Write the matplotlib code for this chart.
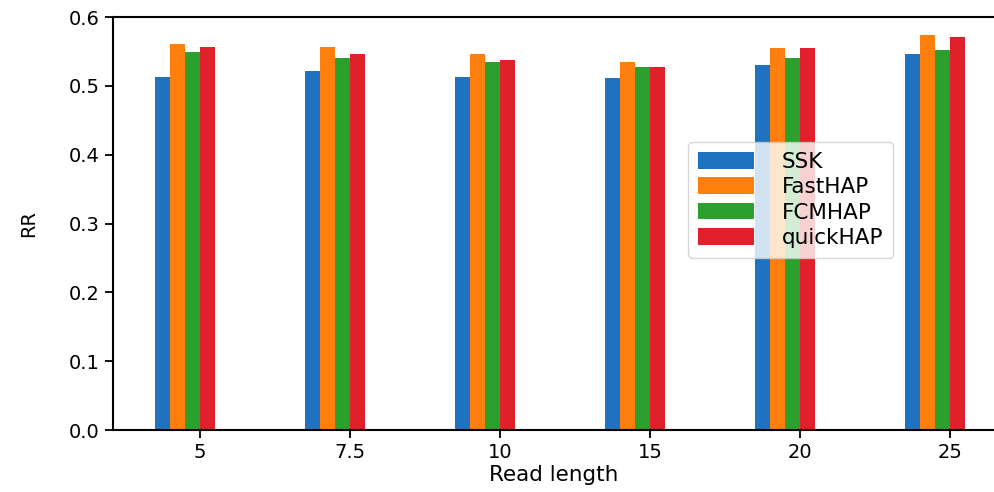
import numpy as np
import matplotlib.pyplot as plt

read_lengths = ['5', '7.5', '10', '15', '20', '25']
ssk = [0.513, 0.522, 0.513, 0.511, 0.530, 0.547]
fasthap = [0.561, 0.557, 0.546, 0.535, 0.555, 0.574]
fcmhap = [0.549, 0.541, 0.535, 0.527, 0.541, 0.552]
quickhap = [0.557, 0.547, 0.538, 0.527, 0.555, 0.571]

series = [('SSK', ssk, '#1f72c0'), ('FastHAP', fasthap, '#ff7f0e'),
          ('FCMHAP', fcmhap, '#2ca02c'), ('quickHAP', quickhap, '#e0202a')]

x = np.arange(len(read_lengths))
w = 0.1

fig = plt.figure(figsize=(9.95, 4.92), dpi=100)
ax = fig.add_axes([0.1136, 0.126, 0.8864, 0.8394])

for i, (name, vals, col) in enumerate(series):
    ax.bar(x - 0.25 + i * w, vals, w, label=name, color=col)

ax.set_xticks(x)
ax.set_xticklabels(read_lengths)
ax.set_xlim(-0.58, 5.3)
ax.set_ylim(0, 0.6)
ax.set_yticks([0.0, 0.1, 0.2, 0.3, 0.4, 0.5, 0.6])
ax.tick_params(labelsize=14, length=6, width=1.3)
ax.set_xlabel('Read length', fontsize=15.5, labelpad=2)
ax.set_ylabel('RR', fontsize=14, labelpad=22)
ax.spines['right'].set_visible(False)
for s in ['left', 'bottom', 'top']:
    ax.spines[s].set_linewidth(1.5)

ax.legend(loc='upper left', bbox_to_anchor=(0.681, 0.733), bbox_transform=fig.transFigure,
          fontsize=15.5, handlelength=2.6, handleheight=0.8, labelspacing=0.25,
          handletextpad=1.3, borderpad=0.45)

plt.savefig('out.png', dpi=100)
